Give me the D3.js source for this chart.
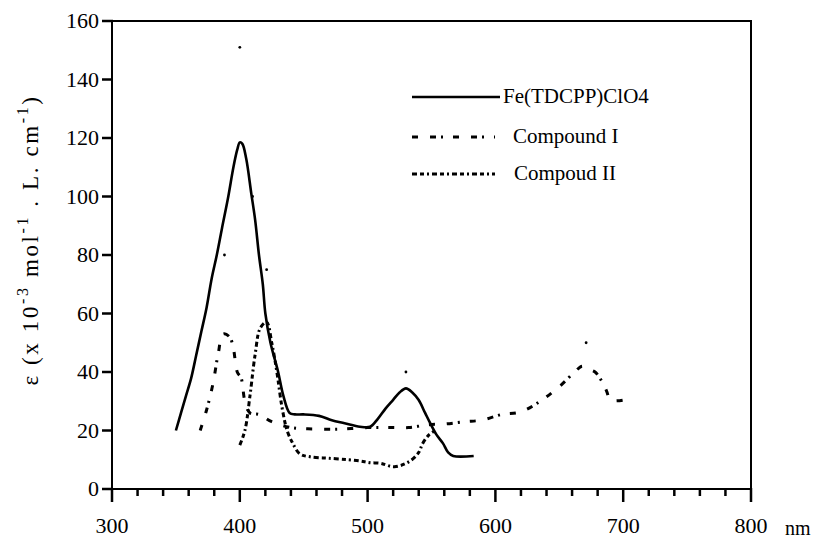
<!DOCTYPE html>
<html>
<head>
<meta charset="utf-8">
<script src="https://d3js.org/d3.v7.min.js"></script>
<style>
  body { margin: 0; background: #fff; }
  text { font-family: "Liberation Serif", "Times New Roman", serif; fill: #000; }
</style>
</head>
<body>
<svg id="chart" width="821" height="544"></svg>
<script>
// spectra: [wavelength nm, epsilon]
var feData = [[350,20],[354,26],[358,32],[362,38],[366,46],[370,54],[374,62],[378,72],[382,80],[386,89],
  [391,100],[395,110],[398,116],[400,118.5],[402,118],[405,113],[409,101],[412,92],[415,80],[418,70],
  [420,60],[424,50],[430,40],[434,32],[439,26],[443,25.5],[450,25.5],[462,25],[472,23.5],[482,22.5],
  [494,21.3],[502,21.3],[508,24],[514,27.5],[520,30.5],[525,33],[530,34.4],[535,33],[540,30.4],
  [545,26],[549,22.5],[554,18.5],[559,15.6],[563,12.5],[567,11.3],[583,11.3]];

var comp1Data = [[369,20],[374,27],[379,36],[383,46],[387,53],[392,52],[395,48],[398,40],[401,38],
  [404,30],[408,26],[415,25.5],[425,23],[440,21],[460,20.5],[480,20.5],[500,21],[518,21],[532,21],
  [548,22],[560,22.2],[576,23],[590,23.6],[605,25.5],[620,26.4],[635,30],[650,35],[662,40],[668,42],
  [672,41],[678,40],[683,37],[687,33.5],[690,30.4],[700,30.4]];

var comp2Data = [[400,15],[404,20],[408,32],[412,46],[416,55],[421,57],[425,50],[429,40],[433,28],
  [437,20],[441,16],[447,12],[455,11],[470,10.5],[485,10],[494,9.6],[502,9],[510,8.8],[521,7.6],
  [533,9.5],[540,12.5],[543,15.5],[548,18.5],[553,20]];

// stray peak marks
var strayDots = [[400,151],[388,80],[410,100],[421,75],[530,40],[671,50]];

var xTicks = [300,400,500,600,700,800];
var xMinorTicks = d3.range(300,801,20);
var yTicks = [0,20,40,60,80,100,120,140,160];
var seriesNames = ["Fe(TDCPP)ClO4", "Compound I", "Compoud II"];

var svg = d3.select("#chart");
var plotL = 112, plotR = 751, plotT = 21, plotB = 489;

var x = d3.scaleLinear().domain([300,800]).range([plotL,plotR]);
var y = d3.scaleLinear().domain([0,160]).range([plotB,plotT]);

// frame
svg.append("rect").attr("x", plotL).attr("y", plotT)
  .attr("width", plotR-plotL).attr("height", plotB-plotT)
  .attr("fill", "none").attr("stroke", "#000").attr("stroke-width", 2);

// x ticks: minor every 20, major every 100
var tickG = svg.append("g").attr("stroke", "#000").attr("stroke-width", 2.5);
xMinorTicks.forEach(function(d){
  tickG.append("line")
    .attr("x1", x(d)).attr("x2", x(d))
    .attr("y1", plotB - 1).attr("y2", d % 100 === 0 ? plotB + 13 : plotB + 7);
});
yTicks.forEach(function(d){
  tickG.append("line")
    .attr("x1", plotL - 10).attr("x2", plotL + 1)
    .attr("y1", y(d)).attr("y2", y(d));
});

svg.selectAll("text.xlab").data(xTicks).enter().append("text")
  .attr("class", "xlab").attr("x", function(d){ return x(d); }).attr("y", 533)
  .attr("text-anchor", "middle").attr("font-size", 22).text(function(d){ return d; });
svg.append("text").attr("x", 785).attr("y", 535).attr("font-size", 20).text("nm");

svg.selectAll("text.ylab").data(yTicks).enter().append("text")
  .attr("class", "ylab").attr("x", plotL - 13).attr("y", function(d){ return y(d) + 7; })
  .attr("text-anchor", "end").attr("font-size", 22).text(function(d){ return d; });

// y label
var yl = svg.append("text").attr("transform", "translate(38,240) rotate(-90)")
  .attr("text-anchor", "middle").attr("font-size", 23).attr("letter-spacing", 2.6);
yl.append("tspan").text("\u03b5  (x 10");
yl.append("tspan").attr("dy", -10).attr("font-size", 16).text("-3");
yl.append("tspan").attr("dy", 10).text(" mol");
yl.append("tspan").attr("dy", -10).attr("font-size", 16).text("-1");
yl.append("tspan").attr("dy", 10).text(" . L. cm");
yl.append("tspan").attr("dy", -10).attr("font-size", 16).text("-1");
yl.append("tspan").attr("dy", 10).text(")");

var line = d3.line().x(function(d){ return x(d[0]); }).y(function(d){ return y(d[1]); })
  .curve(d3.curveCatmullRom);

var styles = [
  { data: feData, dash: null, width: 2.6 },
  { data: comp1Data, dash: "6,12,6,5,2,10", width: 3 },
  { data: comp2Data, dash: "5,3,4,3,2,3", width: 3 }
];

styles.forEach(function(s){
  svg.append("path").datum(s.data).attr("d", line)
    .attr("fill", "none").attr("stroke", "#000")
    .attr("stroke-width", s.width)
    .attr("stroke-dasharray", s.dash);
});

svg.selectAll("circle.stray").data(strayDots).enter().append("circle")
  .attr("class", "stray").attr("cx", function(d){ return x(d[0]); })
  .attr("cy", function(d){ return y(d[1]); }).attr("r", 1.4).attr("fill", "#000");

// legend
var legY = [97, 137, 174];
var legTextX = [503, 513, 514];
seriesNames.forEach(function(name, i){
  svg.append("line").attr("x1", 412).attr("x2", i === 0 ? 500 : 495)
    .attr("y1", legY[i]).attr("y2", legY[i])
    .attr("stroke", "#000").attr("stroke-width", styles[i].width)
    .attr("stroke-dasharray", styles[i].dash);
  svg.append("text").attr("x", legTextX[i]).attr("y", legY[i] + 6)
    .attr("font-size", 21).text(name);
});
</script>
</body>
</html>
